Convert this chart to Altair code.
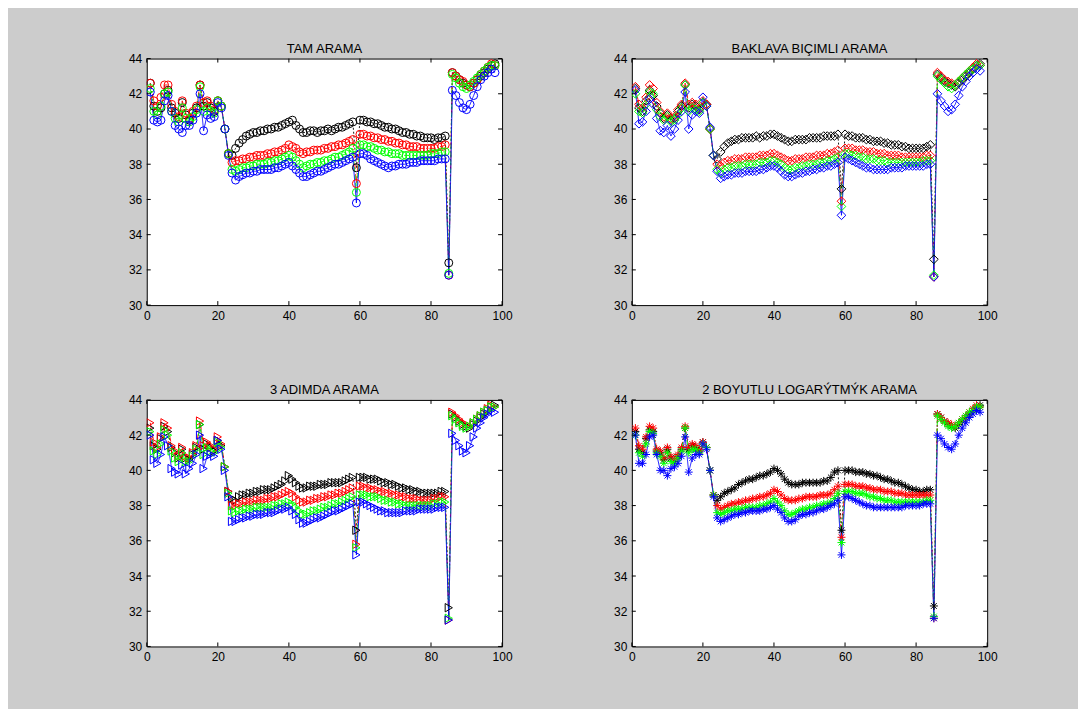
import altair as alt
import pandas as pd

frames = list(range(1, 99))
series_names = ["siyah", "kirmizi", "yesil", "mavi"]
series_colors = ["#000000", "#ff0000", "#00ff00", "#0000ff"]
series_dashes = [[2, 2], [6, 2, 1, 2], [5, 3], [1, 0]]
x_ticks = [0, 20, 40, 60, 80, 100]
y_ticks = [30, 32, 34, 36, 38, 40, 42, 44]
titles = ["TAM ARAMA", "BAKLAVA BIÇIMLI ARAMA", "3 ADIMDA ARAMA", "2 BOYUTLU LOGARÝTMÝK ARAMA"]

# ---------------- TAM ARAMA ----------------
tam_black = [42.6, 41.3, 41.0, 41.2, 42.0, 42.2, 41.2, 40.9, 40.6, 41.5, 40.8, 40.5, 40.9, 41.2, 42.5, 41.3, 41.5, 41.2, 41.0, 41.6, 41.3, 40.0, 38.6, 38.5,
             38.9, 39.2, 39.4, 39.6, 39.7, 39.8, 39.8, 39.9, 39.9, 40.0,
             40.0, 40.1, 40.1, 40.2, 40.3, 40.4, 40.5, 40.2, 40.0, 39.8,
             39.8, 39.9, 39.9, 39.8, 39.9, 39.9, 40.0, 39.9, 40.0, 40.1,
             40.1, 40.2, 40.3, 40.4, 37.8, 40.5, 40.5, 40.4, 40.4, 40.3,
             40.3, 40.2, 40.1, 40.1, 40.0, 40.0, 39.9, 39.8, 39.8, 39.7,
             39.7, 39.6, 39.6, 39.5, 39.5, 39.5, 39.4, 39.5, 39.5, 39.6,
             32.4, 43.2, 43.0, 42.8, 42.6, 42.5, 42.4, 42.6, 42.8, 43.0, 43.2, 43.4, 43.6, 43.7]
tam_red = [42.6, 41.6, 41.3, 41.8, 42.5, 42.5, 41.4, 41.0, 40.7, 41.6, 40.9, 40.6, 41.0, 41.3, 42.5, 41.5, 41.6, 41.3, 41.1, 41.6, 41.3, 40.0, 38.6, 38.1,
           38.2, 38.2, 38.3, 38.3, 38.4, 38.4, 38.5, 38.5, 38.5, 38.6,
           38.6, 38.7, 38.7, 38.8, 38.9, 39.1, 39.0, 38.9, 38.7, 38.6,
           38.7, 38.7, 38.8, 38.8, 38.8, 38.9, 38.9, 39.0, 39.0, 39.1,
           39.1, 39.2, 39.3, 39.4, 36.9, 39.7, 39.7, 39.6, 39.6, 39.5,
           39.5, 39.4, 39.4, 39.3, 39.3, 39.2, 39.2, 39.1, 39.1, 39.0,
           39.0, 39.0, 38.9, 38.9, 38.9, 38.9, 38.9, 39.0, 39.0, 39.1,
           31.7, 43.2, 43.0, 42.8, 42.7, 42.5, 42.4, 42.6, 42.8, 43.1, 43.3, 43.5, 43.7, 43.6]
tam_green = [42.3, 41.0, 40.8, 41.3, 42.0, 42.1, 41.0, 40.6, 40.4, 41.2, 40.6, 40.4, 40.7, 41.1, 42.4, 41.0, 41.2, 41.0, 40.9, 41.6, 41.3, 40.0, 38.6, 37.7,
             37.6, 37.7, 37.8, 37.8, 37.9, 37.9, 38.0, 38.0, 38.0, 38.1,
             38.1, 38.2, 38.2, 38.3, 38.4, 38.5, 38.4, 38.2, 38.0, 37.8,
             37.9, 38.0, 38.0, 38.1, 38.1, 38.2, 38.2, 38.3, 38.4, 38.4,
             38.5, 38.6, 38.7, 38.9, 36.4, 39.1, 39.1, 39.0, 39.0, 38.9,
             38.8, 38.8, 38.7, 38.7, 38.6, 38.6, 38.6, 38.5, 38.5, 38.5,
             38.5, 38.5, 38.5, 38.5, 38.5, 38.6, 38.6, 38.6, 38.7, 38.7,
             31.8, 43.1, 42.9, 42.6, 42.4, 42.3, 42.5, 42.7, 42.9, 43.1, 43.3, 43.5, 43.6, 43.6]
tam_blue = [42.1, 40.5, 40.4, 40.5, 41.6, 41.9, 41.0, 40.2, 40.0, 39.8, 40.2, 40.2, 40.5, 40.9, 42.0, 39.9, 40.8, 40.6, 40.7, 41.5, 41.2, 40.0, 38.5, 37.5,
            37.1, 37.3, 37.4, 37.5, 37.5, 37.6, 37.6, 37.7, 37.7, 37.7,
            37.7, 37.8, 37.8, 37.9, 38.0, 38.1, 37.9, 37.7, 37.5, 37.3,
            37.3, 37.4, 37.5, 37.6, 37.6, 37.7, 37.8, 37.9, 38.0, 38.0,
            38.1, 38.2, 38.3, 38.4, 35.8, 38.6, 38.6, 38.5, 38.3, 38.2,
            38.1, 38.0, 37.9, 37.8, 37.9, 37.9, 38.0, 38.0, 38.0, 38.1,
            38.1, 38.1, 38.2, 38.2, 38.2, 38.2, 38.2, 38.3, 38.3, 38.3,
            31.7, 42.2, 41.9, 41.5, 41.2, 41.1, 41.4, 41.9, 42.4, 42.8, 43.0, 43.2, 43.4, 43.2]

# ---------------- BAKLAVA BIÇIMLI ARAMA ----------------
bak_black = [42.3, 41.2, 41.0, 41.6, 42.2, 41.9, 41.3, 40.9, 40.6, 40.8, 40.5, 40.6, 41.0, 41.3, 42.5, 41.2, 41.4, 41.3, 41.1, 41.5, 41.4, 40.0, 38.5, 38.3,
             38.7, 39.0, 39.2, 39.3, 39.4, 39.4, 39.5, 39.5, 39.5, 39.5,
             39.6, 39.5, 39.6, 39.6, 39.7, 39.7, 39.6, 39.5, 39.4, 39.3,
             39.3, 39.4, 39.4, 39.4, 39.4, 39.5, 39.5, 39.5, 39.5, 39.6,
             39.6, 39.6, 39.6, 39.7, 36.6, 39.7, 39.6, 39.6, 39.5, 39.5,
             39.5, 39.4, 39.4, 39.3, 39.3, 39.3, 39.2, 39.2, 39.1, 39.1,
             39.1, 39.0, 39.0, 38.9, 38.9, 38.9, 38.9, 38.9, 39.0, 39.1,
             32.6, 43.1, 42.9, 42.7, 42.6, 42.5, 42.4, 42.6, 42.8, 43.0, 43.2, 43.4, 43.6, 43.7]
bak_red = [42.4, 41.4, 41.2, 41.8, 42.5, 42.3, 41.5, 41.0, 40.7, 40.9, 40.6, 40.7, 41.1, 41.4, 42.6, 41.4, 41.5, 41.4, 41.2, 41.6, 41.4, 40.0, 38.5, 38.0,
           37.9, 38.1, 38.2, 38.2, 38.3, 38.3, 38.3, 38.4, 38.4, 38.4,
           38.4, 38.5, 38.5, 38.5, 38.6, 38.6, 38.5, 38.4, 38.3, 38.2,
           38.2, 38.3, 38.3, 38.3, 38.4, 38.4, 38.4, 38.5, 38.5, 38.5,
           38.6, 38.6, 38.7, 38.8, 35.9, 38.9, 38.9, 38.9, 38.8, 38.8,
           38.8, 38.7, 38.7, 38.7, 38.6, 38.6, 38.6, 38.5, 38.5, 38.5,
           38.5, 38.4, 38.4, 38.4, 38.4, 38.4, 38.4, 38.4, 38.5, 38.5,
           31.6, 43.2, 43.0, 42.8, 42.7, 42.6, 42.5, 42.7, 42.9, 43.1, 43.3, 43.5, 43.7, 43.6]
bak_green = [42.0, 41.0, 40.9, 41.4, 42.1, 42.0, 41.1, 40.7, 40.5, 40.7, 40.4, 40.5, 40.8, 41.2, 42.5, 41.0, 41.2, 41.1, 41.0, 41.5, 41.3, 40.0, 38.5, 37.7,
             37.5, 37.7, 37.8, 37.8, 37.9, 37.9, 37.9, 38.0, 38.0, 38.0,
             38.0, 38.1, 38.1, 38.1, 38.2, 38.2, 38.1, 38.0, 37.8, 37.7,
             37.7, 37.8, 37.8, 37.9, 37.9, 38.0, 38.0, 38.0, 38.1, 38.1,
             38.2, 38.2, 38.3, 38.4, 35.6, 38.6, 38.6, 38.5, 38.5, 38.4,
             38.4, 38.3, 38.3, 38.3, 38.2, 38.2, 38.2, 38.1, 38.1, 38.1,
             38.1, 38.1, 38.1, 38.1, 38.1, 38.1, 38.1, 38.2, 38.2, 38.2,
             31.7, 43.0, 42.8, 42.6, 42.4, 42.3, 42.5, 42.7, 42.9, 43.1, 43.3, 43.4, 43.6, 43.6]
bak_blue = [42.2, 40.3, 40.4, 41.0, 41.7, 41.4, 40.6, 39.9, 39.8, 40.2, 39.6, 40.0, 40.5, 41.0, 42.1, 40.0, 40.8, 41.0, 40.9, 41.8, 41.3, 40.1, 38.5, 37.6,
            37.2, 37.3, 37.4, 37.4, 37.5, 37.5, 37.5, 37.6, 37.6, 37.6,
            37.6, 37.7, 37.7, 37.8, 37.9, 37.9, 37.8, 37.6, 37.4, 37.3,
            37.3, 37.4, 37.5, 37.5, 37.6, 37.6, 37.7, 37.7, 37.8, 37.8,
            37.9, 37.9, 38.0, 38.1, 35.1, 38.4, 38.3, 38.2, 38.1, 38.0,
            37.9, 37.8, 37.8, 37.7, 37.7, 37.7, 37.7, 37.7, 37.8, 37.8,
            37.8, 37.8, 37.9, 37.9, 37.9, 37.9, 37.9, 37.9, 38.0, 38.0,
            31.6, 42.0, 41.6, 41.3, 41.0, 41.1, 41.4, 41.9, 42.4, 42.7, 43.0, 43.2, 43.4, 43.3]

# ---------------- 3 ADIMDA ARAMA ----------------
adim_black = [42.4, 41.4, 41.2, 41.8, 42.5, 42.2, 41.3, 41.0, 40.7, 41.2, 40.7, 40.6, 40.9, 41.3, 42.6, 41.2, 41.5, 41.3, 41.1, 41.7, 41.4, 40.2, 38.8, 38.4,
              38.3, 38.5, 38.6, 38.6, 38.7, 38.7, 38.8, 38.8, 38.9, 38.9,
              38.9, 39.0, 39.1, 39.2, 39.4, 39.7, 39.5, 39.3, 39.1, 39.0,
              39.0, 39.1, 39.1, 39.1, 39.2, 39.2, 39.2, 39.3, 39.3, 39.3,
              39.3, 39.4, 39.5, 39.6, 36.6, 39.6, 39.6, 39.6, 39.5, 39.5,
              39.5, 39.4, 39.3, 39.3, 39.2, 39.2, 39.1, 39.0, 39.0, 38.9,
              38.9, 38.8, 38.8, 38.7, 38.7, 38.7, 38.7, 38.7, 38.8, 38.8,
              32.2, 43.2, 43.0, 42.8, 42.6, 42.5, 42.4, 42.6, 42.8, 43.0, 43.2, 43.4, 43.6, 43.7]
adim_red = [42.7, 41.6, 41.3, 41.9, 42.7, 42.4, 41.4, 41.1, 40.8, 41.3, 40.8, 40.7, 41.0, 41.4, 42.8, 41.4, 41.6, 41.4, 41.2, 41.9, 41.5, 40.2, 38.8, 38.0,
            38.0, 38.1, 38.1, 38.2, 38.2, 38.2, 38.3, 38.3, 38.3, 38.4,
            38.4, 38.5, 38.5, 38.6, 38.7, 38.8, 38.7, 38.5, 38.3, 38.2,
            38.2, 38.3, 38.3, 38.4, 38.4, 38.5, 38.5, 38.6, 38.6, 38.7,
            38.7, 38.8, 38.9, 39.0, 35.8, 39.1, 39.1, 39.0, 39.0, 38.9,
            38.9, 38.8, 38.8, 38.7, 38.7, 38.6, 38.6, 38.5, 38.5, 38.4,
            38.4, 38.4, 38.3, 38.3, 38.3, 38.3, 38.4, 38.4, 38.5, 38.5,
            31.5, 43.3, 43.1, 42.9, 42.7, 42.6, 42.5, 42.7, 42.9, 43.1, 43.3, 43.5, 43.7, 43.6]
adim_green = [42.2, 41.1, 40.9, 41.5, 42.3, 42.0, 41.1, 40.7, 40.5, 41.0, 40.5, 40.5, 40.8, 41.2, 42.6, 40.9, 41.3, 41.1, 41.0, 41.6, 41.3, 40.2, 38.7, 37.7,
              37.6, 37.7, 37.7, 37.8, 37.8, 37.8, 37.9, 37.9, 37.9, 37.9,
              37.9, 38.0, 38.0, 38.1, 38.1, 38.2, 38.1, 37.9, 37.7, 37.5,
              37.5, 37.6, 37.7, 37.7, 37.8, 37.9, 37.9, 38.0, 38.1, 38.1,
              38.2, 38.3, 38.4, 38.5, 35.6, 38.6, 38.6, 38.6, 38.5, 38.5,
              38.5, 38.4, 38.3, 38.3, 38.2, 38.2, 38.1, 38.1, 38.0, 38.0,
              38.0, 38.0, 38.0, 38.0, 38.0, 38.0, 38.1, 38.1, 38.2, 38.2,
              31.6, 43.1, 42.9, 42.7, 42.5, 42.4, 42.5, 42.7, 42.9, 43.1, 43.3, 43.4, 43.6, 43.6]
adim_blue = [42.0, 40.6, 40.4, 40.9, 41.9, 41.4, 40.1, 39.9, 39.8, 40.3, 39.8, 40.1, 40.4, 40.9, 42.0, 40.1, 40.8, 40.9, 40.8, 41.7, 41.2, 40.0, 38.5, 37.1,
             37.1, 37.2, 37.3, 37.3, 37.4, 37.4, 37.5, 37.5, 37.5, 37.6,
             37.6, 37.6, 37.7, 37.8, 37.8, 37.9, 37.7, 37.5, 37.2, 37.0,
             37.0, 37.1, 37.2, 37.3, 37.3, 37.4, 37.5, 37.6, 37.7, 37.7,
             37.8, 37.9, 38.0, 38.1, 35.2, 38.2, 38.2, 38.1, 38.0, 37.9,
             37.8, 37.7, 37.7, 37.6, 37.6, 37.6, 37.6, 37.6, 37.7, 37.7,
             37.7, 37.7, 37.8, 37.8, 37.8, 37.8, 37.8, 37.9, 37.9, 37.9,
             31.5, 42.1, 41.7, 41.4, 41.1, 41.0, 41.4, 41.9, 42.4, 42.7, 43.0, 43.2, 43.4, 43.3]

# ---------------- 2 BOYUTLU LOGARÝTMÝK ARAMA ----------------
log_black = [42.2, 41.2, 41.0, 41.8, 42.3, 42.2, 41.1, 41.0, 40.6, 41.2, 40.7, 40.5, 40.8, 41.2, 42.4, 41.2, 41.4, 41.3, 41.1, 41.6, 41.3, 40.0, 38.6, 38.3,
             38.5, 38.7, 38.8, 38.9, 39.0, 39.2, 39.3, 39.4, 39.5, 39.5,
             39.6, 39.7, 39.7, 39.8, 39.9, 40.1, 40.0, 39.8, 39.5, 39.3,
             39.2, 39.2, 39.2, 39.3, 39.3, 39.3, 39.3, 39.3, 39.3, 39.4,
             39.4, 39.6, 39.9, 40.0, 36.6, 40.0, 40.0, 40.0, 39.9, 39.9,
             39.9, 39.8, 39.8, 39.7, 39.7, 39.6, 39.5, 39.5, 39.4, 39.3,
             39.3, 39.2, 39.1, 39.0, 38.9, 38.9, 38.8, 38.8, 38.9, 38.9,
             32.3, 43.2, 43.0, 42.8, 42.6, 42.5, 42.4, 42.6, 42.8, 43.0, 43.2, 43.4, 43.6, 43.7]
log_red = [42.4, 41.4, 41.2, 41.9, 42.5, 42.4, 41.2, 41.1, 40.7, 41.3, 40.8, 40.6, 40.9, 41.3, 42.5, 41.3, 41.5, 41.4, 41.2, 41.6, 41.3, 40.0, 38.6, 38.0,
           37.8, 37.9, 38.0, 38.1, 38.1, 38.2, 38.2, 38.3, 38.3, 38.4,
           38.4, 38.5, 38.5, 38.6, 38.7, 38.9, 38.8, 38.6, 38.4, 38.3,
           38.3, 38.3, 38.4, 38.4, 38.5, 38.5, 38.5, 38.5, 38.6, 38.6,
           38.6, 38.7, 38.9, 39.1, 36.2, 39.2, 39.2, 39.2, 39.1, 39.1,
           39.1, 39.0, 39.0, 38.9, 38.9, 38.9, 38.8, 38.8, 38.8, 38.7,
           38.7, 38.7, 38.6, 38.6, 38.6, 38.6, 38.6, 38.6, 38.6, 38.6,
           31.6, 43.2, 43.0, 42.8, 42.7, 42.6, 42.5, 42.7, 42.9, 43.1, 43.3, 43.5, 43.7, 43.6]
log_green = [42.0, 41.0, 40.8, 41.5, 42.2, 42.1, 41.0, 40.8, 40.4, 41.0, 40.5, 40.4, 40.7, 41.1, 42.4, 41.0, 41.2, 41.2, 41.0, 41.5, 41.3, 40.0, 38.6, 37.6,
             37.5, 37.6, 37.7, 37.7, 37.8, 37.8, 37.8, 37.9, 37.9, 37.9,
             37.9, 38.0, 38.0, 38.1, 38.2, 38.4, 38.2, 38.0, 37.7, 37.5,
             37.5, 37.6, 37.7, 37.8, 37.8, 37.9, 37.9, 38.0, 38.0, 38.1,
             38.1, 38.2, 38.4, 38.7, 35.9, 38.8, 38.8, 38.8, 38.7, 38.7,
             38.7, 38.6, 38.5, 38.5, 38.4, 38.4, 38.3, 38.3, 38.3, 38.2,
             38.2, 38.2, 38.2, 38.2, 38.2, 38.2, 38.2, 38.2, 38.3, 38.3,
             31.7, 43.1, 42.9, 42.7, 42.5, 42.4, 42.5, 42.7, 42.9, 43.1, 43.3, 43.4, 43.6, 43.6]
log_blue = [42.0, 40.4, 40.4, 40.9, 41.9, 42.0, 40.9, 40.0, 40.0, 39.7, 40.1, 40.2, 40.4, 40.8, 41.9, 39.9, 40.7, 40.9, 40.9, 41.5, 41.2, 40.0, 38.5, 37.3,
            37.1, 37.2, 37.3, 37.4, 37.5, 37.5, 37.6, 37.6, 37.7, 37.7,
            37.7, 37.7, 37.8, 37.8, 37.9, 38.0, 37.8, 37.6, 37.3, 37.1,
            37.1, 37.2, 37.4, 37.5, 37.5, 37.6, 37.6, 37.7, 37.8, 37.8,
            37.9, 38.0, 38.1, 38.3, 35.2, 38.5, 38.5, 38.4, 38.3, 38.2,
            38.1, 38.0, 38.0, 37.9, 37.9, 37.9, 37.9, 37.9, 37.9, 37.9,
            37.9, 37.9, 38.0, 38.0, 38.0, 38.0, 38.0, 38.1, 38.1, 38.1,
            31.6, 42.0, 41.8, 41.5, 41.3, 41.2, 41.5, 42.0, 42.4, 42.7, 43.0, 43.2, 43.4, 43.3]

panel_values = [
    [tam_black, tam_red, tam_green, tam_blue],
    [bak_black, bak_red, bak_green, bak_blue],
    [adim_black, adim_red, adim_green, adim_blue],
    [log_black, log_red, log_green, log_blue],
]
for pv in panel_values:
    for s in pv:
        assert len(s) == 98, len(s)

asterisk = "M-1,0L1,0M0,-1L0,1M-0.72,-0.72L0.72,0.72M-0.72,0.72L0.72,-0.72"
shapes = ["circle", "diamond", "triangle-right", asterisk]
shape_sizes = [64, 76, 70, 64]

W, H = 356, 247
FONT = "Liberation Sans"


def x_enc():
    return alt.X("frame:Q", scale=alt.Scale(domain=[0, 100], nice=False, zero=False),
                 axis=alt.Axis(values=x_ticks, ticks=False, domain=False, grid=False,
                               labelPadding=5, title=None, labelFont=FONT,
                               labelFontSize=12, labelColor="black", labelFlush=False))


def y_enc():
    return alt.Y("psnr:Q", scale=alt.Scale(domain=[30, 44], nice=False, zero=False),
                 axis=alt.Axis(values=y_ticks, ticks=False, domain=False, grid=False,
                               labelPadding=5, title=None, labelFont=FONT,
                               labelFontSize=12, labelColor="black", labelFlush=False))


def make_panel(title, values, shape, msize):
    rows = []
    for name, vals in zip(series_names, values):
        for f, v in zip(frames, vals):
            rows.append({"frame": f, "psnr": v, "series": name})
    df = pd.DataFrame(rows)
    color = alt.Color("series:N", scale=alt.Scale(domain=series_names, range=series_colors),
                      legend=None, sort=series_names)
    lines = alt.Chart(df).mark_line(strokeWidth=0.9, clip=True).encode(
        x=x_enc(), y=y_enc(), color=color,
        strokeDash=alt.StrokeDash("series:N", scale=alt.Scale(domain=series_names, range=series_dashes),
                                  legend=None),
        order="frame:Q",
    )
    pts = alt.Chart(df).mark_point(shape=shape, filled=False, size=msize, strokeWidth=1,
                                   opacity=1, clip=True).encode(
        x=x_enc(), y=y_enc(), color=color)
    xt = pd.DataFrame({"frame": x_ticks})
    yt = pd.DataFrame({"psnr": y_ticks})
    tick_top = alt.Chart(xt).mark_rule(color="black", strokeWidth=1).encode(
        x=x_enc(), y=alt.value(0), y2=alt.value(4))
    tick_bot = alt.Chart(xt).mark_rule(color="black", strokeWidth=1).encode(
        x=x_enc(), y=alt.value(H - 4), y2=alt.value(H))
    tick_left = alt.Chart(yt).mark_rule(color="black", strokeWidth=1).encode(
        y=y_enc(), x=alt.value(0), x2=alt.value(4))
    tick_right = alt.Chart(yt).mark_rule(color="black", strokeWidth=1).encode(
        y=y_enc(), x=alt.value(W - 4), x2=alt.value(W))
    return alt.layer(lines, pts, tick_top, tick_bot, tick_left, tick_right).properties(
        width=W, height=H,
        title=alt.Title(title, font=FONT, fontSize=13, fontWeight="normal", color="black", offset=-3),
    )


panels = [make_panel(t, v, s, z) for t, v, s, z in zip(titles, panel_values, shapes, shape_sizes)]

chart = alt.concat(*panels, columns=2, spacing={"row": 95, "column": 130}, bounds="flush").properties(
    background="#cccccc",
    padding={"left": 120, "top": 33, "right": 80, "bottom": 45},
).configure_view(stroke="black", strokeWidth=1, fill="white")

chart.save("out.html", embed_options={"renderer": "svg", "actions": False})
